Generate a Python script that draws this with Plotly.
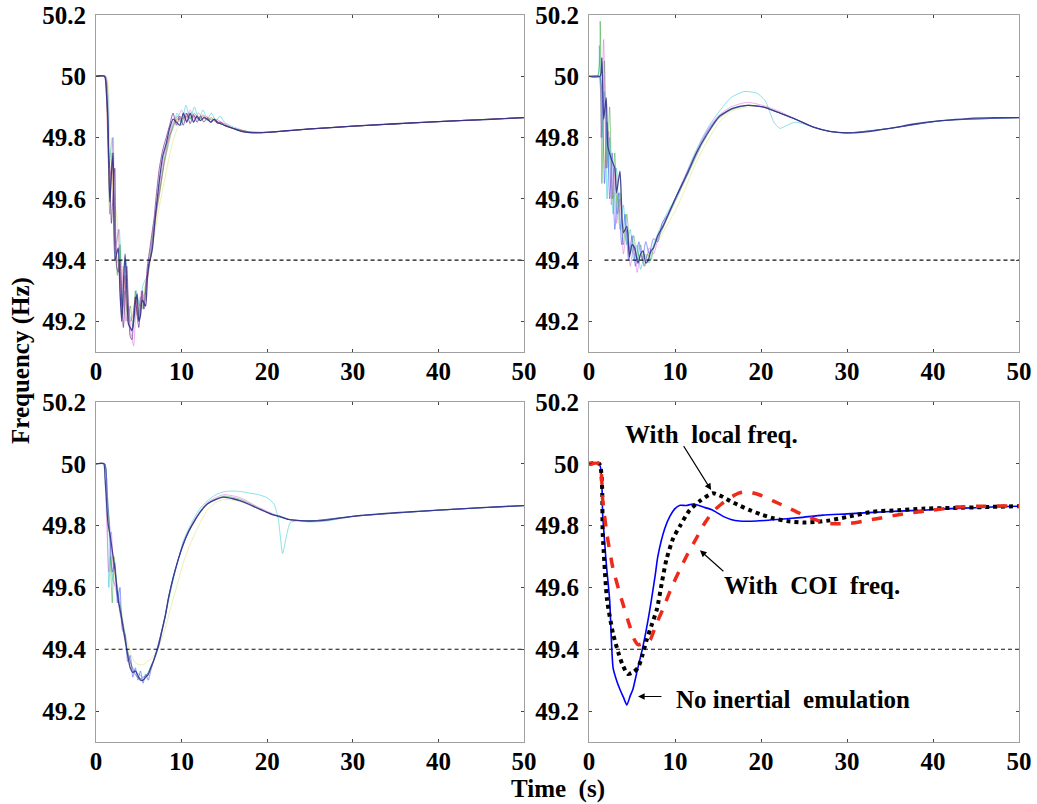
import plotly.graph_objects as go
from plotly.subplots import make_subplots

# ---------------- data (time s, frequency Hz) ----------------
LIMIT_HZ = 49.4
X_TICKS = [0, 10, 20, 30, 40, 50]
Y_TICKS = [49.2, 49.4, 49.6, 49.8, 50.0, 50.2]
Y_TICK_TEXT = ["49.2", "49.4", "49.6", "49.8", "50", "50.2"]

# Top-left panel
TL_main = [(0,50),(1.0,50),(1.2,49.95),(1.4,49.86),(1.6,49.59),(1.8,49.68),(2.0,49.75),(2.2,49.40),(2.4,49.42),(2.6,49.44),(2.8,49.30),(3.0,49.20),(3.2,49.32),(3.4,49.42),(3.6,49.30),(3.8,49.19),(4.0,49.18),(4.2,49.17),(4.4,49.20),(4.6,49.26),(4.8,49.29),(5.0,49.20),(5.2,49.22),(5.4,49.27),(5.6,49.26),(5.8,49.25),(6.0,49.34),(6.2,49.39),(6.4,49.41),(6.6,49.44),(6.8,49.50),(7.0,49.56),(7.4,49.66),(7.8,49.74),(8.2,49.78),(8.6,49.83),(9.0,49.86),(9.4,49.85),(9.8,49.84),(10.2,49.88),(10.6,49.85),(11.0,49.88),(11.4,49.85),(11.8,49.87),(12.2,49.855),(12.6,49.865),(13.0,49.86),(13.4,49.85),(13.8,49.86),(14.2,49.85),(14.6,49.845),(15.0,49.84),(16,49.83),(17,49.82),(18,49.816),(19,49.815),(20,49.817),(22,49.822),(25,49.828),(30,49.837),(35,49.845),(40,49.852),(45,49.858),(50,49.865)]
TL_purple = [(0,50),(1.0,50),(1.2,49.97),(1.4,49.80),(1.6,49.70),(1.8,49.52),(2.0,49.62),(2.2,49.70),(2.4,49.38),(2.6,49.36),(2.8,49.40),(3.0,49.26),(3.2,49.18),(3.4,49.28),(3.6,49.38),(3.8,49.24),(4.0,49.15),(4.2,49.14),(4.4,49.22),(4.6,49.28),(4.8,49.22),(5.0,49.18),(5.2,49.24),(5.4,49.30),(5.6,49.24),(5.8,49.30),(6.0,49.38),(6.2,49.42),(6.4,49.46),(6.6,49.50),(6.8,49.54),(7.0,49.60),(7.4,49.70),(7.8,49.76),(8.2,49.80),(8.6,49.84),(9.0,49.88),(9.4,49.84),(9.8,49.87),(10.2,49.84),(10.6,49.88),(11.0,49.845),(11.4,49.875),(11.8,49.85),(12.2,49.87),(12.6,49.85),(13.0,49.865),(13.4,49.85),(13.8,49.86),(14.2,49.845),(14.6,49.85),(15.0,49.84),(16,49.83),(17,49.82),(18,49.816),(20,49.817),(25,49.828),(30,49.837),(40,49.852),(50,49.865)]
TL_cyan = [(0,50),(1.1,50),(1.5,49.7),(1.9,49.8),(2.3,49.45),(2.7,49.5),(3.1,49.25),(3.5,49.4),(3.9,49.22),(4.3,49.2),(4.7,49.3),(5.1,49.25),(5.5,49.32),(6.0,49.35),(6.5,49.45),(7.0,49.55),(7.5,49.63),(8.0,49.72),(8.5,49.78),(9.0,49.84),(9.5,49.88),(10.0,49.84),(10.5,49.905),(11.0,49.86),(11.5,49.9),(12.0,49.86),(12.5,49.89),(13.0,49.86),(13.5,49.88),(14.0,49.855),(14.5,49.87),(15,49.85),(16,49.835),(18,49.818),(20,49.817),(25,49.828),(30,49.837),(40,49.852),(50,49.865)]
TL_yellow = [(0,50),(1.2,50),(1.6,49.8),(2.0,49.62),(2.4,49.55),(2.8,49.42),(3.2,49.35),(3.6,49.30),(4.0,49.25),(4.4,49.24),(4.8,49.22),(5.2,49.26),(5.6,49.30),(6.0,49.35),(6.5,49.43),(7.0,49.51),(7.5,49.59),(8.0,49.66),(8.5,49.73),(9.0,49.79),(9.5,49.83),(10.0,49.86),(10.5,49.865),(11.0,49.87),(11.5,49.865),(12.0,49.87),(12.5,49.86),(13,49.865),(14,49.85),(15,49.84),(16,49.83),(18,49.818),(20,49.817),(25,49.828),(30,49.837),(40,49.852),(50,49.865)]
TL_green = [(0,50),(1.0,50),(1.3,49.9),(1.6,49.55),(1.9,49.75),(2.2,49.5),(2.5,49.35),(2.8,49.45),(3.1,49.22),(3.4,49.3),(3.7,49.2),(4.0,49.25),(4.3,49.18),(4.6,49.3),(4.9,49.22),(5.2,49.28),(5.5,49.24),(5.8,49.32),(6.2,49.38),(6.6,49.47),(7.0,49.56),(7.5,49.64),(8.0,49.73),(8.5,49.80),(9.0,49.83),(9.5,49.87),(10.0,49.85),(10.5,49.88),(11.0,49.86),(11.5,49.88),(12,49.855),(12.5,49.875),(13,49.855),(13.5,49.865),(14,49.85),(15,49.84),(16,49.83),(18,49.818),(20,49.817),(25,49.828),(30,49.837),(40,49.852),(50,49.865)]
TL_pink = [(0,50),(1.1,50),(1.4,49.75),(1.7,49.68),(2.0,49.8),(2.3,49.42),(2.6,49.5),(2.9,49.25),(3.2,49.38),(3.5,49.2),(3.8,49.25),(4.1,49.16),(4.4,49.12),(4.7,49.25),(5.0,49.2),(5.3,49.3),(5.6,49.25),(6.0,49.36),(6.4,49.44),(6.8,49.52),(7.2,49.6),(7.6,49.68),(8.0,49.75),(8.5,49.8),(9.0,49.85),(9.5,49.86),(10.0,49.89),(10.5,49.86),(11.0,49.89),(11.5,49.86),(12,49.88),(12.5,49.86),(13,49.87),(13.5,49.855),(14,49.86),(15,49.845),(16,49.83),(18,49.818),(20,49.817),(25,49.828),(30,49.837),(40,49.852),(50,49.865)]
TL_red = [(0,50),(1.0,50),(1.3,49.85),(1.6,49.62),(1.9,49.72),(2.2,49.45),(2.5,49.4),(2.8,49.35),(3.1,49.24),(3.4,49.35),(3.7,49.22),(4.0,49.2),(4.3,49.22),(4.6,49.28),(4.9,49.21),(5.2,49.25),(5.5,49.28),(5.8,49.3),(6.2,49.37),(6.6,49.45),(7.0,49.54),(7.5,49.63),(8.0,49.72),(8.5,49.79),(9.0,49.84),(9.5,49.86),(10.0,49.86),(10.5,49.87),(11.0,49.865),(11.5,49.87),(12,49.86),(12.5,49.87),(13,49.86),(13.5,49.86),(14,49.855),(15,49.845),(16,49.83),(18,49.818),(20,49.817),(25,49.828),(30,49.837),(40,49.852),(50,49.865)]

# Top-right panel
TR_main = [(0,50),(1.3,50),(1.5,50.06),(1.7,49.86),(2.0,49.93),(2.2,49.77),(2.6,49.73),(3.0,49.70),(3.2,49.62),(3.6,49.69),(4.0,49.49),(4.4,49.51),(4.7,49.41),(5.0,49.45),(5.3,49.44),(5.7,49.39),(6.0,49.42),(6.3,49.43),(6.6,49.39),(6.9,49.40),(7.2,49.43),(7.5,49.44),(8.0,49.48),(8.6,49.51),(9.4,49.56),(10.2,49.61),(11.4,49.68),(12.5,49.75),(13.7,49.81),(15.2,49.87),(16.7,49.895),(18.4,49.905),(20.2,49.90),(22.2,49.88),(24,49.86),(26,49.835),(28,49.82),(30,49.815),(32,49.818),(35,49.83),(38,49.845),(41,49.855),(44,49.862),(47,49.865),(50,49.865)]
TR_green = [(0,50),(1.0,50),(1.3,50.18),(1.5,49.65),(1.8,50.05),(2.1,49.7),(2.4,49.9),(2.7,49.6),(3.0,49.75),(3.3,49.55),(3.6,49.62),(4.0,49.45),(4.4,49.55),(4.8,49.42),(5.2,49.48),(5.6,49.4),(6.0,49.45),(6.4,49.38),(6.8,49.42),(7.2,49.4),(7.6,49.45),(8.2,49.48),(9.0,49.53),(10,49.59),(11,49.65),(12,49.71),(13,49.77),(14,49.82),(15,49.86),(16.5,49.89),(18.4,49.905),(20.2,49.90),(22.2,49.88),(24,49.86),(26,49.835),(28,49.82),(30,49.815),(35,49.83),(41,49.855),(50,49.865)]
TR_cyan = [(0,50),(1.0,50),(1.2,50.1),(1.5,49.8),(1.8,49.95),(2.1,49.6),(2.4,49.8),(2.8,49.55),(3.2,49.7),(3.6,49.5),(4.0,49.58),(4.4,49.45),(4.8,49.5),(5.2,49.4),(5.6,49.45),(6.0,49.37),(6.5,49.42),(7.0,49.39),(7.5,49.45),(8.2,49.5),(9.0,49.55),(10,49.6),(11,49.66),(12,49.73),(13,49.79),(14,49.84),(15,49.88),(16.5,49.93),(18,49.95),(19.5,49.945),(20.5,49.92),(21.5,49.85),(22.2,49.83),(23,49.84),(24,49.85),(26,49.835),(28,49.82),(30,49.815),(35,49.83),(41,49.855),(50,49.865)]
TR_blue = [(0,50),(1.2,50),(1.5,49.95),(1.8,49.65),(2.1,49.85),(2.4,49.6),(2.7,49.75),(3.0,49.5),(3.4,49.62),(3.8,49.45),(4.2,49.55),(4.6,49.4),(5.0,49.48),(5.4,49.38),(5.8,49.46),(6.2,49.4),(6.6,49.46),(7.0,49.42),(7.5,49.47),(8.0,49.46),(8.5,49.52),(9.2,49.55),(10,49.6),(11,49.66),(12,49.72),(13,49.78),(14,49.83),(15,49.865),(16.7,49.895),(18.4,49.905),(20.2,49.90),(22.2,49.88),(24,49.86),(26,49.835),(28,49.82),(30,49.815),(35,49.83),(41,49.855),(50,49.865)]
TR_pink = [(0,50),(1.1,50),(1.4,49.8),(1.7,50.12),(2.0,49.7),(2.3,49.82),(2.6,49.58),(2.9,49.7),(3.2,49.52),(3.6,49.6),(4.0,49.42),(4.4,49.5),(4.8,49.38),(5.2,49.45),(5.6,49.36),(6.0,49.42),(6.5,49.38),(7.0,49.44),(7.5,49.42),(8.2,49.49),(9,49.54),(10,49.6),(11,49.665),(12,49.725),(13,49.785),(14,49.835),(15,49.87),(16.5,49.9),(18.4,49.915),(20.2,49.905),(22.2,49.885),(24,49.86),(26,49.835),(28,49.82),(30,49.815),(35,49.83),(41,49.855),(50,49.865)]
TR_yellow = [(0,50),(1.2,50),(1.5,49.9),(1.9,49.7),(2.3,49.75),(2.7,49.6),(3.1,49.62),(3.5,49.52),(4.0,49.5),(4.5,49.45),(5.0,49.43),(5.5,49.41),(6.0,49.4),(6.5,49.41),(7.0,49.42),(7.5,49.44),(8.2,49.47),(9,49.51),(10,49.56),(11,49.62),(12,49.69),(13,49.75),(14,49.8),(15,49.845),(16.5,49.885),(18.4,49.9),(20.2,49.9),(22.2,49.88),(24,49.86),(26,49.835),(28,49.82),(30,49.815),(35,49.83),(41,49.855),(50,49.865)]

# Bottom-left panel
BL_main = [(0,50),(0.9,50),(1.05,49.955),(1.4,49.81),(1.7,49.76),(1.9,49.72),(2.2,49.66),(2.6,49.56),(3.0,49.50),(3.4,49.43),(3.7,49.38),(4.0,49.34),(4.3,49.325),(4.6,49.33),(4.9,49.315),(5.2,49.30),(5.5,49.30),(5.8,49.31),(6.1,49.318),(6.4,49.34),(6.7,49.36),(7.0,49.385),(7.3,49.41),(7.7,49.46),(8.1,49.51),(8.5,49.57),(9.0,49.63),(9.6,49.69),(10.2,49.74),(10.8,49.78),(11.4,49.81),(12.2,49.845),(13.0,49.87),(14.0,49.885),(14.9,49.892),(16.0,49.887),(16.9,49.88),(17.8,49.87),(18.8,49.857),(19.8,49.845),(20.7,49.835),(21.5,49.83),(22.5,49.82),(23.5,49.817),(25,49.815),(27,49.818),(30,49.83),(35,49.842),(40,49.85),(45,49.858),(50,49.865)]
BL_blue = [(0,50),(1.0,50),(1.3,49.9),(1.6,49.8),(1.9,49.65),(2.2,49.68),(2.5,49.55),(2.8,49.6),(3.1,49.46),(3.4,49.45),(3.7,49.36),(4.0,49.38),(4.3,49.31),(4.6,49.34),(4.9,49.3),(5.2,49.33),(5.5,49.29),(5.8,49.32),(6.1,49.3),(6.4,49.33),(6.7,49.36),(7.0,49.39),(7.3,49.42),(7.7,49.46),(8.1,49.51),(8.5,49.57),(9.0,49.63),(9.6,49.69),(10.2,49.74),(10.8,49.78),(11.4,49.81),(12.2,49.845),(13.0,49.87),(14.9,49.892),(16.9,49.88),(18.8,49.857),(20.7,49.835),(22.5,49.82),(25,49.815),(30,49.83),(40,49.85),(50,49.865)]
BL_cyan = [(0,50),(1.0,50),(1.3,49.85),(1.5,49.6),(1.7,49.7),(2.0,49.62),(2.4,49.6),(2.8,49.52),(3.2,49.47),(3.6,49.4),(4.0,49.36),(4.5,49.33),(5.0,49.32),(5.5,49.31),(6.0,49.32),(6.5,49.35),(7.0,49.38),(7.5,49.43),(8.0,49.49),(8.5,49.56),(9.0,49.62),(9.6,49.69),(10.2,49.75),(11,49.8),(12,49.85),(13,49.88),(14,49.9),(15,49.91),(16,49.912),(17,49.91),(18,49.905),(19,49.9),(20,49.89),(20.8,49.87),(21.3,49.82),(21.8,49.71),(22.2,49.76),(22.7,49.81),(23.5,49.815),(25,49.812),(27,49.815),(30,49.83),(40,49.85),(50,49.865)]
BL_yellow = [(0,50),(1.0,50),(1.3,49.88),(1.7,49.74),(2.1,49.66),(2.5,49.58),(3.0,49.5),(3.5,49.44),(4.0,49.39),(4.5,49.36),(5.0,49.35),(5.5,49.35),(6.0,49.36),(6.5,49.37),(7.0,49.39),(7.5,49.42),(8.0,49.46),(8.5,49.51),(9.0,49.56),(9.6,49.62),(10.2,49.68),(11,49.74),(12,49.8),(13,49.85),(14,49.875),(15,49.885),(16.5,49.88),(18.8,49.857),(20.7,49.835),(22.5,49.82),(25,49.815),(30,49.83),(40,49.85),(50,49.865)]
BL_green = [(0,50),(1.0,50),(1.3,49.92),(1.6,49.75),(1.9,49.55),(2.1,49.7),(2.4,49.62),(2.8,49.55),(3.2,49.48),(3.6,49.41),(4.0,49.36),(4.4,49.33),(4.8,49.31),(5.2,49.305),(5.6,49.31),(6.0,49.32),(6.5,49.35),(7.0,49.385),(7.5,49.44),(8.1,49.51),(8.5,49.57),(9.0,49.63),(9.6,49.69),(10.2,49.74),(11.4,49.81),(13,49.87),(14.9,49.895),(16.9,49.885),(18.8,49.86),(20.7,49.835),(22.5,49.82),(25,49.815),(30,49.83),(40,49.85),(50,49.865)]
BL_pink = [(0,50),(1.0,50),(1.2,49.85),(1.5,49.65),(1.8,49.78),(2.1,49.62),(2.5,49.57),(2.9,49.5),(3.3,49.44),(3.7,49.39),(4.1,49.35),(4.5,49.32),(5.0,49.31),(5.5,49.3),(6.0,49.315),(6.5,49.35),(7.0,49.385),(7.5,49.44),(8.1,49.51),(8.5,49.57),(9.0,49.63),(9.6,49.69),(10.2,49.745),(11.4,49.815),(13,49.875),(14.9,49.9),(16.9,49.89),(18.8,49.862),(20.7,49.838),(22.5,49.82),(25,49.815),(30,49.83),(40,49.85),(50,49.865)]

# Bottom-right panel (comparison)
BR_none = [(0,50),(1.2,50),(1.6,49.83),(2.0,49.68),(2.4,49.56),(2.8,49.34),(3.2,49.30),(3.6,49.27),(4.0,49.245),(4.4,49.22),(4.8,49.25),(5.1,49.27),(5.6,49.33),(6.2,49.40),(6.9,49.50),(7.7,49.64),(8.0,49.70),(8.8,49.79),(9.4,49.83),(10.0,49.855),(10.6,49.866),(11.3,49.865),(12.1,49.87),(13.3,49.86),(14.4,49.85),(15.6,49.83),(16.5,49.82),(17.5,49.815),(19.5,49.815),(22,49.82),(24.5,49.826),(27.2,49.834),(30,49.838),(33,49.843),(36,49.847),(38.8,49.85),(42,49.855),(45,49.858),(47.5,49.861),(50,49.863)]
BR_local = [(0,50),(1.2,50),(1.6,49.77),(2.1,49.56),(2.8,49.45),(3.4,49.39),(3.9,49.35),(4.5,49.32),(5.1,49.325),(5.7,49.34),(6.2,49.38),(6.7,49.43),(7.3,49.48),(7.9,49.53),(8.5,49.62),(9.0,49.69),(9.8,49.76),(10.6,49.80),(11.7,49.85),(12.9,49.88),(14.4,49.905),(15.4,49.895),(16.4,49.88),(17.5,49.865),(18.7,49.85),(20,49.836),(21.4,49.824),(23,49.815),(24.9,49.81),(26.5,49.812),(28,49.817),(30,49.828),(33,49.845),(36,49.85),(38.8,49.855),(42,49.857),(46,49.86),(50,49.863)]
BR_coi = [(0,50),(1.2,50),(1.6,49.88),(2.1,49.77),(2.8,49.66),(3.8,49.56),(4.8,49.47),(5.3,49.43),(5.7,49.415),(6.4,49.42),(7.1,49.43),(7.8,49.48),(8.6,49.53),(9.6,49.60),(10.6,49.66),(11.5,49.71),(12.5,49.76),(13.5,49.81),(14.4,49.845),(15.4,49.87),(16.4,49.89),(17.4,49.905),(18.4,49.91),(19.8,49.9),(21.4,49.88),(23,49.86),(24.5,49.84),(26,49.823),(27.2,49.81),(28.8,49.806),(30.3,49.807),(32,49.815),(33.8,49.824),(37,49.84),(40,49.85),(42.8,49.86),(46,49.863),(50,49.863)]

LIMIT_START = {1: 1.0, 2: 1.8, 3: 1.0, 4: 0.7}

# ---------------- figure ----------------
FONT = "Liberation Serif"
W, H = 1037, 804
fig = make_subplots(rows=2, cols=2)

light = {
    "blue": "rgba(40,60,255,0.5)", "cyan": "rgba(0,190,200,0.45)",
    "yellow": "rgba(200,200,0,0.3)", "green": "rgba(0,140,0,0.4)",
    "pink": "rgba(210,60,210,0.4)", "red": "rgba(230,60,40,0.4)",
    "purple": "rgba(110,40,140,0.7)",
}

def add(series, r, c, color, width=1.0, dash="solid", shape="spline"):
    t = [p[0] for p in series]
    v = [p[1] for p in series]
    fig.add_trace(go.Scatter(x=t, y=v, mode="lines", showlegend=False,
                             line=dict(color=color, width=width, dash=dash,
                                       shape=shape, smoothing=0.6)),
                  row=r, col=c)

panels = {
    (1, 1): [(TL_yellow, "yellow"), (TL_cyan, "cyan"), (TL_green, "green"),
             (TL_pink, "pink"), (TL_red, "red"), (TL_purple, "purple")],
    (1, 2): [(TR_yellow, "yellow"), (TR_cyan, "cyan"), (TR_green, "green"),
             (TR_pink, "pink"), (TR_blue, "blue")],
    (2, 1): [(BL_yellow, "yellow"), (BL_cyan, "cyan"), (BL_green, "green"),
             (BL_pink, "pink"), (BL_blue, "blue")],
}
mains = {(1, 1): TL_main, (1, 2): TR_main, (2, 1): BL_main}

idx = {(1, 1): 1, (1, 2): 2, (2, 1): 3, (2, 2): 4}
for (r, c), lst in panels.items():
    for s, col in lst:
        add(s, r, c, light[col], 1.0)
    add(mains[(r, c)], r, c, "rgba(50,50,140,0.9)", 1.3)

# bottom-right comparison
add(BR_none, 2, 2, "#0000ff", 1.6)
add(BR_local, 2, 2, "#000000", 4.0, "dot")
add(BR_coi, 2, 2, "#ee2a1a", 3.5, "dash")

# 49.4 Hz limit lines
for (r, c), i in idx.items():
    fig.add_trace(go.Scatter(x=[LIMIT_START[i], 50], y=[LIMIT_HZ, LIMIT_HZ],
                             mode="lines", showlegend=False,
                             line=dict(color="#111", width=1.1,
                                       dash="4px,3px")),
                  row=r, col=c)

# domains from pixel positions
def px_x(a, b):
    return [a / W, b / W]

def px_y(top, bottom):
    return [1 - bottom / H, 1 - top / H]

xdom = {1: px_x(96, 524), 2: px_x(589, 1019)}
ydom = {1: px_y(15, 352), 2: px_y(402, 742)}

tickfont = dict(family=FONT, size=25, color="black", weight="bold")
for (r, c), i in idx.items():
    sx = "" if i == 1 else str(i)
    fig.layout["xaxis" + sx].update(
        domain=xdom[c], range=[0, 50], tickvals=X_TICKS, showgrid=False,
        zeroline=False, showline=True, linecolor="#a0a0a0", linewidth=1.2,
        mirror="ticks", ticks="inside", ticklen=3, tickcolor="#444",
        tickfont=tickfont, ticklabelstandoff=-3, automargin=False)
    fig.layout["yaxis" + sx].update(
        domain=ydom[r], range=[49.1, 50.2], tickvals=Y_TICKS,
        ticktext=Y_TICK_TEXT, showgrid=False, zeroline=False, showline=True,
        linecolor="#a0a0a0", linewidth=1.2, mirror="ticks", ticks="inside",
        ticklen=3, tickcolor="#444", tickfont=tickfont, ticklabelstandoff=4,
        automargin=False)

afont = dict(family=FONT, size=25, color="black", weight="bold")
annotations = [
    dict(text="Frequency (Hz)", x=21 / W, y=1 - 361 / H, xref="paper",
         yref="paper", textangle=-90, showarrow=False, font=afont,
         xanchor="center", yanchor="middle"),
    dict(text="Time  (s)", x=558 / W, y=1 - 789 / H, xref="paper",
         yref="paper", showarrow=False, font=afont, xanchor="center",
         yanchor="middle"),
    dict(text="With  local freq.", x=14.3, y=50.095, xref="x4", yref="y4",
         showarrow=False, font=afont, xanchor="center", yanchor="middle"),
    dict(text="With  COI  freq.", x=25.9, y=49.605, xref="x4", yref="y4",
         showarrow=False, font=afont, xanchor="center", yanchor="middle"),
    dict(text="No inertial  emulation", x=23.7, y=49.237, xref="x4",
         yref="y4", showarrow=False, font=afont, xanchor="center",
         yanchor="middle"),
]
arrows = [((14.2, 49.915), (10.9, 50.062)),
          ((12.9, 49.72), (15.8, 49.648)),
          ((5.7, 49.247), (8.6, 49.247))]
for (hx, hy), (tx, ty) in arrows:
    annotations.append(dict(text="", x=hx, y=hy, ax=tx, ay=ty, xref="x4",
                            yref="y4", axref="x4", ayref="y4", showarrow=True,
                            arrowhead=2, arrowsize=1.2, arrowwidth=1.1,
                            arrowcolor="black"))

fig.update_layout(width=W, height=H, margin=dict(l=0, r=0, t=0, b=0),
                  paper_bgcolor="white", plot_bgcolor="white",
                  annotations=annotations, showlegend=False)

fig.write_html("out.html")
